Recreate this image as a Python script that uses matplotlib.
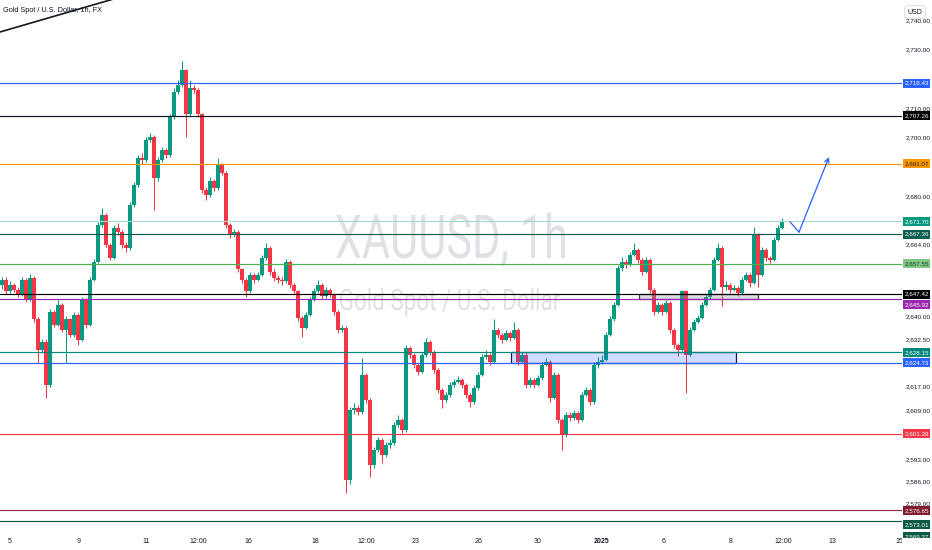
import numpy as np
import matplotlib
matplotlib.use("Agg")
import matplotlib.pyplot as plt
from matplotlib import font_manager
from matplotlib.patches import Rectangle, PathPatch
from matplotlib.textpath import TextPath
from matplotlib.font_manager import FontProperties
from matplotlib.transforms import Affine2D, IdentityTransform
from matplotlib.ticker import FixedLocator, FuncFormatter, NullLocator

# XAUUSD 1h candles (one candle per ~3 hours)
first_open = 2650.6
closes = [
    2652.2, 2648.3, 2650.6, 2648.9, 2647.3, 2652.2, 2645.6, 2652.9, 2639.0, 2629.0,
    2631.7, 2617.4, 2641.6, 2637.3, 2643.9, 2635.6, 2639.0, 2634.0, 2640.6, 2632.3,
    2645.6, 2637.3, 2652.2, 2658.2, 2670.5, 2673.8, 2663.9, 2659.5, 2669.5, 2668.2,
    2663.9, 2662.9, 2677.1, 2683.8, 2693.0, 2692.4, 2699.0, 2700.0, 2686.1, 2692.4,
    2695.7, 2694.0, 2706.8, 2715.5, 2717.8, 2722.8, 2707.8, 2716.8, 2716.1, 2707.8,
    2682.1, 2680.5, 2685.4, 2682.8, 2690.7, 2688.1, 2670.5, 2667.2, 2668.2, 2655.6,
    2652.2, 2648.3, 2653.9, 2652.2, 2653.9, 2659.5, 2662.9, 2654.9, 2652.9, 2652.2,
    2651.6, 2658.2, 2650.6, 2648.3, 2639.6, 2636.3, 2640.6, 2645.6, 2648.3, 2650.6,
    2646.9, 2648.9, 2647.3, 2641.6, 2635.6, 2636.3, 2586.5, 2609.2, 2609.8, 2608.5,
    2620.7, 2612.5, 2591.2, 2596.2, 2599.5, 2594.5, 2597.9, 2598.5, 2604.3, 2606.0,
    2602.6, 2629.7, 2627.3, 2624.0, 2621.7, 2627.3, 2631.7, 2628.3, 2622.4, 2615.8,
    2612.5, 2614.2, 2617.5, 2618.5, 2619.1, 2617.5, 2614.2, 2611.8, 2616.5, 2620.8,
    2626.7, 2627.3, 2625.0, 2635.6, 2634.0, 2632.3, 2634.6, 2633.0, 2635.6, 2625.0,
    2627.3, 2617.5, 2619.1, 2617.5, 2619.8, 2624.0, 2625.0, 2613.2, 2620.8, 2606.0,
    2601.1, 2607.6, 2606.6, 2608.3, 2606.0, 2614.2, 2615.8, 2611.8, 2624.0, 2625.0,
    2625.7, 2634.0, 2639.0, 2643.9, 2656.2, 2658.2, 2657.2, 2660.5, 2662.2, 2658.9,
    2654.9, 2658.9, 2648.9, 2641.6, 2643.9, 2641.6, 2644.6, 2635.6, 2630.7, 2629.0,
    2648.3, 2627.3, 2635.6, 2638.3, 2639.6, 2643.9, 2646.3, 2648.9, 2658.9, 2662.9,
    2649.9, 2650.6, 2648.9, 2649.6, 2647.9, 2652.2, 2653.9, 2651.2, 2667.2, 2653.9,
    2662.2, 2659.5, 2658.9, 2665.5, 2669.5, 2671.7,
]
highs = [
    2653.2, 2653.0, 2651.7, 2651.2, 2649.7, 2653.2, 2652.7, 2654.2, 2653.4, 2639.7,
    2632.7, 2632.4, 2642.5, 2642.2, 2645.6, 2644.4, 2640.0, 2639.5, 2641.5, 2641.0,
    2646.6, 2646.0, 2653.2, 2659.2, 2671.5, 2676.2, 2674.4, 2664.5, 2670.5, 2671.0,
    2668.8, 2664.7, 2678.1, 2684.8, 2694.0, 2694.7, 2700.0, 2701.3, 2700.7, 2693.5,
    2696.8, 2696.5, 2707.8, 2716.6, 2719.4, 2726.1, 2723.3, 2719.4, 2717.8, 2716.6,
    2708.3, 2683.2, 2686.5, 2686.0, 2693.0, 2691.3, 2688.7, 2671.0, 2669.2, 2668.7,
    2656.2, 2652.8, 2654.9, 2654.5, 2654.9, 2660.5, 2664.5, 2663.5, 2655.6, 2653.7,
    2653.0, 2659.2, 2658.8, 2651.2, 2648.9, 2640.2, 2641.6, 2646.6, 2649.3, 2652.2,
    2651.2, 2649.9, 2649.6, 2647.9, 2642.2, 2637.2, 2636.8, 2610.2, 2611.5, 2610.8,
    2626.3, 2621.4, 2613.1, 2597.2, 2600.5, 2600.0, 2598.9, 2599.6, 2605.3, 2607.6,
    2606.6, 2630.7, 2630.2, 2628.0, 2624.5, 2628.3, 2633.0, 2632.2, 2628.8, 2622.9,
    2616.3, 2615.2, 2618.5, 2619.5, 2620.3, 2619.7, 2618.1, 2614.7, 2617.5, 2621.8,
    2627.7, 2628.8, 2627.8, 2639.0, 2636.2, 2634.6, 2635.6, 2635.1, 2638.0, 2636.1,
    2628.3, 2627.8, 2620.1, 2619.6, 2620.8, 2625.0, 2626.3, 2625.5, 2621.8, 2621.3,
    2606.5, 2608.6, 2608.6, 2609.3, 2608.9, 2615.2, 2616.8, 2616.3, 2625.0, 2626.7,
    2627.2, 2635.0, 2640.0, 2644.9, 2657.2, 2659.6, 2659.2, 2661.5, 2664.5, 2662.7,
    2659.4, 2659.9, 2659.4, 2649.4, 2644.9, 2644.4, 2645.6, 2645.1, 2636.1, 2631.2,
    2648.9, 2648.8, 2636.6, 2639.3, 2640.6, 2644.9, 2647.3, 2649.9, 2659.9, 2664.5,
    2663.4, 2651.6, 2651.2, 2650.6, 2650.1, 2653.2, 2654.9, 2654.4, 2669.8, 2667.7,
    2663.2, 2662.7, 2660.2, 2666.5, 2670.5, 2672.8,
]
lows = [
    2649.2, 2647.5, 2647.7, 2648.1, 2646.4, 2646.8, 2644.7, 2645.2, 2638.2, 2624.7,
    2628.0, 2613.2, 2616.7, 2636.4, 2636.8, 2634.7, 2624.7, 2633.1, 2633.2, 2630.7,
    2631.8, 2636.3, 2636.8, 2651.6, 2657.7, 2669.8, 2663.0, 2658.6, 2659.0, 2667.1,
    2662.9, 2661.5, 2662.2, 2676.4, 2683.2, 2691.1, 2691.8, 2698.3, 2675.5, 2685.4,
    2691.7, 2693.0, 2693.5, 2706.2, 2714.6, 2717.2, 2700.0, 2707.2, 2714.9, 2706.8,
    2681.1, 2678.8, 2679.8, 2681.8, 2682.2, 2687.2, 2669.5, 2666.2, 2666.6, 2654.6,
    2651.2, 2646.6, 2647.7, 2651.2, 2651.6, 2653.3, 2658.9, 2653.9, 2651.9, 2651.2,
    2650.5, 2651.0, 2649.6, 2647.3, 2638.6, 2633.3, 2635.7, 2640.0, 2645.0, 2647.7,
    2645.9, 2646.2, 2646.3, 2640.6, 2634.6, 2634.7, 2582.3, 2585.0, 2607.8, 2607.5,
    2607.9, 2611.5, 2587.5, 2590.4, 2595.4, 2592.0, 2593.8, 2596.9, 2597.8, 2603.7,
    2601.6, 2602.0, 2626.3, 2623.0, 2620.7, 2621.2, 2626.7, 2627.3, 2621.4, 2614.8,
    2609.8, 2611.8, 2613.6, 2616.8, 2617.9, 2616.5, 2613.2, 2610.2, 2611.3, 2615.9,
    2620.2, 2626.0, 2624.0, 2624.5, 2633.0, 2631.3, 2631.8, 2632.0, 2632.5, 2624.0,
    2624.5, 2616.5, 2616.8, 2616.5, 2617.0, 2619.2, 2623.5, 2611.8, 2612.7, 2605.0,
    2596.2, 2600.5, 2605.6, 2606.0, 2605.0, 2605.5, 2613.7, 2610.8, 2611.3, 2623.0,
    2624.2, 2625.2, 2633.5, 2638.5, 2643.4, 2655.2, 2656.2, 2656.7, 2660.0, 2657.9,
    2653.9, 2654.4, 2647.9, 2640.6, 2641.1, 2640.6, 2641.1, 2634.6, 2629.7, 2627.0,
    2628.5, 2614.8, 2626.8, 2635.1, 2637.8, 2639.1, 2643.4, 2645.8, 2648.4, 2658.4,
    2643.3, 2648.9, 2647.9, 2648.4, 2646.9, 2647.4, 2651.7, 2649.9, 2650.7, 2649.9,
    2653.4, 2658.5, 2657.9, 2658.4, 2665.0, 2669.0,
]

# horizontal levels drawn on the chart
level_prices = [2718.43, 2707.26, 2691.07, 2671.70, 2667.36, 2657.55, 2647.42,
                2645.92, 2628.15, 2624.73, 2601.39, 2576.65, 2573.01, 2569.37]
level_colors = ['#2962ff', '#131722', '#ff9800', '#a6d9d2', '#0e5e50', '#4caf50', '#000000',
                '#9c27b0', '#00897b', '#2962ff', '#f23645', '#9c2a4a', '#0b5a45', '#0b5a45']
label_colors = ['#2962ff', '#000000', '#ff9800', '#089981', '#0e5e50', '#81c784', '#000000',
                '#9c27b0', '#00897b', '#2962ff', '#f23645', '#7f1d2d', '#0b5a45', '#0b5a45']
label_text_colors = ['white', 'white', '#131722', 'white', 'white', '#1b3d1d', 'white',
                     'white', 'white', 'white', 'white', 'white', 'white', 'white']
label_nudge = [0, 0, 0, 0, 0, 0, 0, 6.0, 0, 0, 0, 0.5, 3.0, 4.0]

price_ticks = [2740, 2730, 2710, 2700, 2680, 2664, 2640, 2632.5,
               2617, 2609, 2593, 2586, 2579]
time_ticks = [2, 19.25, 36, 49, 61.6, 78.25, 91, 103.5, 119.25, 134,
              149.9, 165.5, 182.25, 195.4, 207.5, 224.3]
time_labels = ['5', '9', '11', '12:00', '16', '18', '12:00', '23', '26', '30',
               '2025', '6', '8', '12:00', '13', '15']

W, H = 932, 550
UP, DOWN = '#089981', '#f23645'

names = {f.name for f in font_manager.fontManager.ttflist}
small_font = 'Liberation Sans Narrow' if 'Liberation Sans Narrow' in names else 'Liberation Sans'
plt.rcParams['font.family'] = [small_font, 'DejaVu Sans']

fig = plt.figure(figsize=(W / 100, H / 100), dpi=100)
fig.patch.set_facecolor('white')
# chart pane: 0..902 px wide, 0..531 px tall (from top)
ax = fig.add_axes([0, 19 / H, 902 / W, 531 / H])
ax.set_yscale('log')
ax.set_ylim(2569.9, 2746.9)
ax.set_xlim(-0.5, 225.0)
for s in ax.spines.values():
    s.set_visible(False)


def watermark(s, x0, x1, base_y, cap_px):
    """text squeezed into a pixel box, like the pale symbol watermark"""
    fp = FontProperties(family='Roboto')
    tp = TextPath((0, 0), s, size=100, prop=fp)
    cap = TextPath((0, 0), 'H', size=100, prop=fp).get_extents().height
    ext = tp.get_extents()
    tr = Affine2D().translate(-ext.x0, 0).scale((x1 - x0) / ext.width, cap_px / cap)
    tr = tr.translate(x0, H - base_y)
    patch = PathPatch(tr.transform_path(tp), facecolor='#e0e1e5', edgecolor='none',
                      transform=IdentityTransform(), zorder=0.5)
    ax.add_artist(patch)


watermark('XAUUSD, 1h', 336, 565, 258, 43)
watermark('Gold Spot / U.S. Dollar', 340, 560, 310, 21)

# candles
n = min(len(closes), len(highs), len(lows))
c = np.array(closes[:n])
hi = np.array(highs[:n])
lo = np.array(lows[:n])
o = np.r_[first_open, c[:-1]]
x = np.arange(n)
cols = np.where(c >= o, UP, DOWN)
ax.vlines(x, lo, hi, colors=cols, lw=0.75, zorder=2)
ax.bar(x, np.maximum(np.abs(c - o), 0.2), bottom=np.minimum(o, c), width=0.8,
       color=cols, linewidth=0, zorder=2.1)

# zones
ax.add_patch(Rectangle((127.25, 2624.6), 56.25, 3.8, facecolor=(0.16, 0.38, 1.0, 0.22),
                       edgecolor='#0d1a6b', lw=0.9, zorder=3))
ax.add_patch(Rectangle((159.25, 2645.8), 29.75, 1.7, facecolor=(0.55, 0.57, 0.66, 0.3),
                       edgecolor='#3c3f4a', lw=0.9, zorder=3))

for p, col in zip(level_prices, level_colors):
    ax.axhline(p, color=col, lw=0.85, zorder=4)

# projected path
ax.plot([197, 199.25], [2671.5, 2668.1], color='#2962ff', lw=0.9, zorder=5)
ax.annotate('', xy=(206.75, 2693.3), xytext=(199.25, 2668.1),
            arrowprops=dict(arrowstyle='->', color='#2962ff', lw=0.9,
                            mutation_scale=8, shrinkA=0, shrinkB=0), zorder=5)

# trend line leaving the top left corner
ax.plot([-0.5, 39.5], [2735.9, 2751.9], color='#131722', lw=1.2, zorder=5)

ax.text(3 / 902, 1 - 10 / 531, 'Gold Spot / U.S. Dollar, 1h, FX', transform=ax.transAxes,
        fontsize=5.3, color='#131722', va='center', ha='left', zorder=1)

# price scale
ax.yaxis.tick_right()
ax.yaxis.set_major_locator(FixedLocator(price_ticks))
ax.yaxis.set_minor_locator(NullLocator())
ax.yaxis.set_major_formatter(FuncFormatter(lambda v, _: f'{v:,.2f}'))
ax.tick_params(axis='y', length=0, pad=3, labelsize=4.6, labelcolor='#131722')

# time scale
ax.set_xticks(time_ticks)
ax.set_xticklabels(time_labels)
ax.tick_params(axis='x', length=0, pad=5, labelsize=5, labelcolor='#131722')
ax.get_xticklabels()[10].set_fontweight('bold')

# price labels on the scale
for p, bc, tc, dy in zip(level_prices, label_colors, label_text_colors, label_nudge):
    yd = ax.transData.transform((0, p))[1] - dy
    fig.add_artist(Rectangle((903, yd - 4.5), 27, 9, transform=IdentityTransform(),
                             facecolor=bc, edgecolor='none', zorder=3))
    fig.text(916.5, yd, f'{p:,.2f}', transform=IdentityTransform(), ha='center',
             va='center', fontsize=4.5, color=tc, zorder=4)

fig.text(915, H - 12, 'USD', transform=IdentityTransform(), ha='center', va='center',
         fontsize=5, color='#131722', zorder=4,
         bbox=dict(boxstyle='round,pad=0.4', fc='white', ec='#d1d4dc', lw=0.6))
# corner of the two scales
fig.add_artist(Rectangle((902, 0), 30, 12, transform=IdentityTransform(),
                         facecolor='white', edgecolor='none', zorder=5))

fig.savefig('out.png', dpi=100, facecolor='white')
